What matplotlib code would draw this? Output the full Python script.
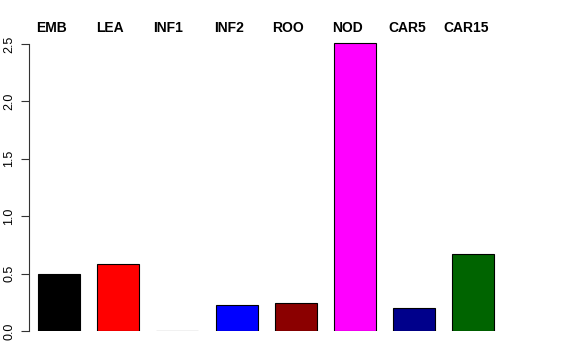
import matplotlib.pyplot as plt
import numpy as np

plt.rcParams['font.family'] = ['Liberation Sans', 'DejaVu Sans']

tissues = ['EMB', 'LEA', 'INF1', 'INF2', 'ROO', 'NOD', 'CAR5', 'CAR15']
values = [0.50, 0.58, 0.004, 0.225, 0.24, 2.51, 0.20, 0.675]
colors = ['black', 'red', 'white', 'blue', '#8B0000', 'magenta', '#00008B', '#006400']
# label centres along the top (in bar units), as R placed them
label_pos = [-0.12, 0.86, 1.85, 2.88, 3.86, 4.87, 5.88, 6.87]

W, H = 576, 360
fig = plt.figure(figsize=(W / 100, H / 100), dpi=100)
ax = fig.add_axes([29 / W, (H - 331) / H, (520 - 29) / W, (331 - 30) / H])

x = np.arange(len(tissues))
ax.bar(x, values, width=0.71, color=colors, edgecolor='black', linewidth=0.8)

ax.set_xlim(-(59 - 29) / 59.2, (520 - 59) / 59.2)
ax.set_ylim(0, (331 - 30) / 114.8)

for s in ('top', 'right', 'bottom'):
    ax.spines[s].set_visible(False)
ax.spines['left'].set_bounds(0, 2.5)
ax.spines['left'].set_linewidth(0.8)
ax.spines['left'].set_color('#333333')
ax.set_xticks([])
ax.set_yticks([0, 0.5, 1.0, 1.5, 2.0, 2.5])
ax.set_yticklabels(['0.0', '0.5', '1.0', '1.5', '2.0', '2.5'], rotation=90, va='center', fontsize=9)
ax.tick_params(axis='y', length=6, width=0.8, color='#333333', pad=4)

for lab, p in zip(tissues, label_pos):
    ax.text(p, (331 - 28) / 114.8, lab, ha='center', va='center', fontsize=10,
            fontweight='bold', clip_on=False)

fig.savefig('out.png', dpi=100)
